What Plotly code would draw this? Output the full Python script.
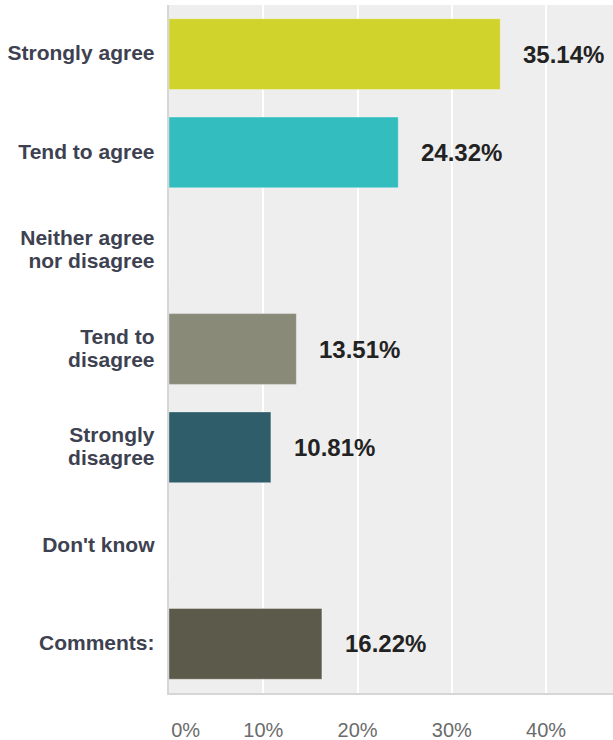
import plotly.graph_objects as go

# Survey responses (percent of respondents)
categories = [
    "Strongly agree",
    "Tend to agree",
    "Neither agree<br>nor disagree",
    "Tend to<br>disagree",
    "Strongly<br>disagree",
    "Don't know",
    "Comments:",
]
percentages = [35.14, 24.32, 0.0, 13.51, 10.81, 0.0, 16.22]
bar_colors = ["#d0d32b", "#33bdbe", "#d0d32b", "#8a8a79", "#2f5e6a", "#8a8a79", "#5c5a4b"]

tick_values = [0, 10, 20, 30, 40]
tick_labels = ["\u00a0" * 6 + "0%", "10%", "20%", "30%", "40%"]

FONT = "Arial, 'Liberation Sans', sans-serif"

fig = go.Figure()
fig.add_trace(
    go.Bar(
        x=percentages,
        y=categories,
        orientation="h",
        marker=dict(color=bar_colors, line=dict(color="rgba(255,255,255,0.35)", width=1)),
        hoverinfo="skip",
    )
)

# Value labels to the right of each non-empty bar
for cat, val in zip(categories, percentages):
    if val > 0:
        fig.add_annotation(
            x=val,
            y=cat,
            text=f"<b>{val:.2f}%</b>",
            xanchor="left",
            yanchor="middle",
            xshift=21,
            showarrow=False,
            font=dict(family=FONT, size=24, color="#222222"),
        )

fig.update_layout(
    width=613,
    height=740,
    margin=dict(l=169, r=0, t=5, b=47),
    paper_bgcolor="white",
    plot_bgcolor="#eeeeee",
    bargap=0.28,
    showlegend=False,
    font=dict(family=FONT),
)

fig.update_xaxes(
    range=[0, 47.1],
    tickvals=tick_values,
    ticktext=tick_labels,
    showgrid=True,
    gridcolor="#ffffff",
    gridwidth=2,
    zeroline=False,
    showline=True,
    linecolor="#d6d6d6",
    linewidth=2,
    ticks="outside",
    ticklen=18,
    tickcolor="rgba(0,0,0,0)",
    tickfont=dict(family=FONT, size=20, color="#6b6b6b"),
    automargin=False,
    fixedrange=True,
)

# Compact line height for wrapped category labels: small base size, larger glyphs
fig.update_yaxes(
    autorange="reversed",
    showgrid=False,
    zeroline=False,
    showline=True,
    linecolor="#d6d6d6",
    linewidth=2,
    ticks="outside",
    ticklen=9,
    tickcolor="rgba(0,0,0,0)",
    tickfont=dict(family=FONT, size=17.5, color="#3d4150"),
    tickprefix="<span style='font-size:21px'><b>",
    ticksuffix="</b></span>",
    automargin=False,
    fixedrange=True,
)

fig.write_html("out.html", config={"displayModeBar": False})
